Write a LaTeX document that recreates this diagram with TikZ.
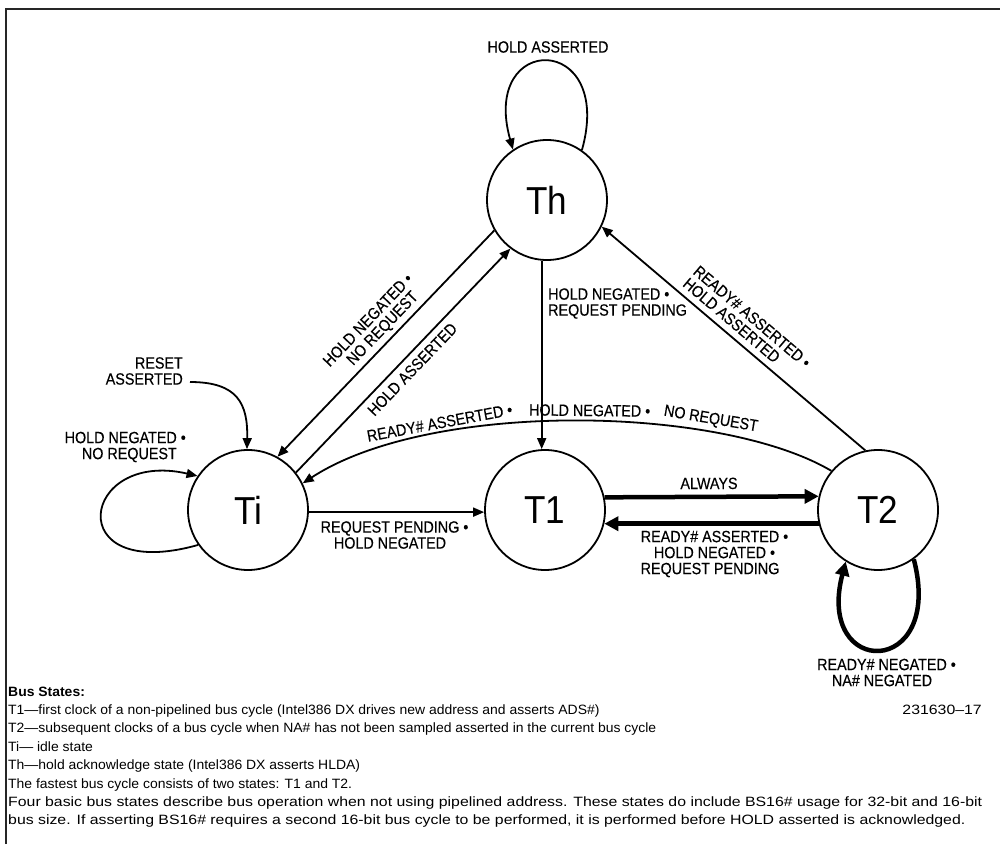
\documentclass[tikz,border=0pt]{standalone}
\usepackage{fontspec}
\usepackage{graphicx}
\setmainfont{Liberation Sans}
\newfontfamily\cadfont[FakeStretch=0.88,FakeBold=0.3]{Liberation Sans}
\newfontfamily\statefont[FakeStretch=0.9]{Liberation Sans}
\usetikzlibrary{arrows.meta,calc}
\newlength\lw
\newcommand\btxt[1]{\scalebox{\bsx}[1]{#1}}
\newcommand\ntxt[1]{\scalebox{\bsxa}[1]{#1}}
\begin{document}
\settowidth\lw{\fontsize{13.5}{18.4}\selectfont Four basic bus states describe bus operation when not using pipelined address. These states do include BS16\# usage for 32-bit and 16-bit}
\pgfmathsetmacro\bsx{974/\lw}
\pgfmathsetmacro\bsxa{0.88*\bsx}
\begin{tikzpicture}[x=1pt,y=1pt,
  state/.style={circle,draw,line width=1.8pt,minimum size=120pt,inner sep=0pt,font=\statefont\fontsize{39}{39}\selectfont},
  lab/.style={font=\cadfont\fontsize{16.3}{16}\selectfont,inner sep=0pt},
  arr/.style={line width=1.8pt,-{Triangle[length=11pt,width=9pt]}},
  rarr/.style={line width=1.8pt,{Triangle[length=11pt,width=9pt]}-},
  fatarr/.style={line width=4.5pt,-{Triangle[length=14pt,width=14pt]}},
  btx/.style={font=\fontsize{13.5}{18.4}\selectfont,anchor=base west,inner sep=0pt}
]
\useasboundingbox (0,0) rectangle (1000,844);
% frame
\draw[line width=1.5pt, black!85] (6,0) -- (6,835) -- (1000,835);

% states
\node[state] (Th) at (547,644) {Th};
\node[state] (Ti) at (248,334) {Ti};
\node[state] (T1) at (545,334) {T1};
\node[state] (T2) at (878,334) {T2};

% Th self loop
\draw[arr] (Th.55) .. controls (615,812) and (480,812) .. (Th.124);
\node[lab] (lha) at (548,797) {HOLD ASSERTED};

% Th -> Ti
\draw[rarr] (Ti.61.5) -- (Th.210.5)
  node[lab,midway,sloped,above,inner sep=4pt,align=right] {HOLD NEGATED\rlap{ •}\\NO REQUEST};
% Ti -> Th
\draw[arr] (Ti.38.3) -- (Th.233.7)
  node[lab,midway,sloped,below,inner sep=6pt] {HOLD ASSERTED};

% Th -> T1
\draw[arr] (Th.265) -- (Th.265 |- T1.north);
\node[lab,anchor=west,align=left] (lthT1) at (548,540.5) {HOLD NEGATED •\\REQUEST PENDING};

% T2 -> Th
\draw[rarr] (Th.334) -- (T2.102)
  node[lab,midway,sloped,above,inner sep=6pt,align=left] {READY\# ASSERTED •\\HOLD ASSERTED};

% T2 -> Ti
\draw[rarr] (Ti.26) .. controls (430,444) and (720,439) .. (T2.140)
  node[lab,pos=0.282,sloped,above,inner sep=4pt] {READY\# ASSERTED •}
  node[lab,pos=0.527,sloped,above,inner sep=4pt] {HOLD NEGATED •}
  node[lab,pos=0.73,sloped,above,inner sep=4pt] {NO REQUEST};

% Ti -> T1
\draw[arr] (Ti.-2) -- (T1.182);
\node[lab,align=center] (ltiT1) at (390,309) {REQUEST PENDING\rlap{ •}\\HOLD NEGATED};

% T1 -> T2
\draw[fatarr] (T1.12.5) -- (T2.167.5);
\node[lab,anchor=base] (lalw) at (709,355) {ALWAYS};
% T2 -> T1
\draw[fatarr] (T2.193.5) -- (T1.-13.5);
\node[lab,align=center] (lT2T1) at (710,290) {READY\# ASSERTED\rlap{ •}\\HOLD NEGATED\rlap{ •}\\REQUEST PENDING};

% T2 loop
\draw[fatarr] (T2.-54) .. controls (945,165) and (815,165) .. (T2.-122);
\node[lab,align=center] (lT2) at (882,171.5) {READY\# NEGATED\rlap{ •}\\NA\# NEGATED};

% Ti loop
\draw[arr] (Ti.215) .. controls (60,260) and (80,395) .. (Ti.146);
\node[lab,anchor=east,align=right] (lTi) at (177,397) {HOLD NEGATED\rlap{ •}\\NO REQUEST};

% reset
\node[lab,anchor=east,align=right] (rst) at (183,473) {RESET\\ASSERTED};
\coordinate (rs) at (190,462);
\draw[arr] (rs) .. controls (238,462) and (248,440) .. (Ti.91);

% bottom text
\node[btx] (b1) at (8,148) {\ntxt{\bfseries Bus States:}};
\node[btx] (b2) at (8,129.6) {\ntxt{T1—first clock of a non-pipelined bus cycle (Intel386 DX drives new address and asserts ADS\#)}};
\node[btx] (b3) at (8,111.2) {\ntxt{T2—subsequent clocks of a bus cycle when NA\# has not been sampled asserted in the current bus cycle}};
\node[btx] (b4) at (8,92.8) {\ntxt{Ti— idle state}};
\node[btx] (b5) at (8,74.4) {\ntxt{Th—hold acknowledge state (Intel386 DX asserts HLDA)}};
\node[btx] (b6) at (8,56) {\ntxt{The fastest bus cycle consists of two states: T1 and T2.}};
\node[btx] (b7) at (8,37.6) {\btxt{Four basic bus states describe bus operation when not using pipelined address. These states do include BS16\# usage for 32-bit and 16-bit}};
\node[btx] (b8) at (8,19.2) {\btxt{bus size. If asserting BS16\# requires a second 16-bit bus cycle to be performed, it is performed before HOLD asserted is acknowledged.}};
\node[btx,anchor=base east] (fig) at (982,129.6) {\btxt{231630–17}};
\end{tikzpicture}
\end{document}
